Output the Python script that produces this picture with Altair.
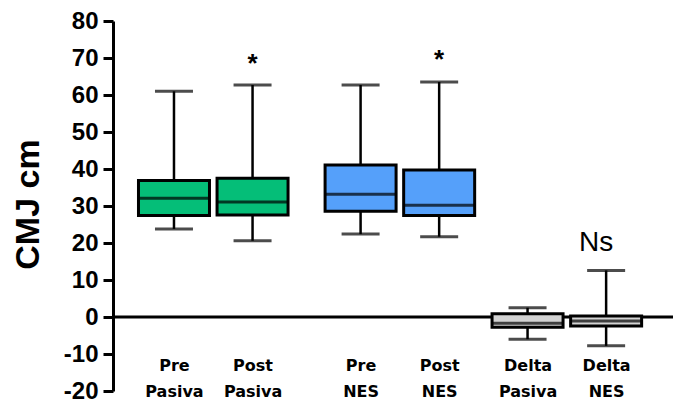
import json
import altair as alt
import pandas as pd

# ---- data ----
categories = ["Pre Pasiva", "Post Pasiva", "Pre NES", "Post NES", "Delta Pasiva", "Delta NES"]
groups = [0, 0, 1, 1, 2, 2]
whisker_low = [23.8, 20.6, 22.4, 21.7, -6.0, -7.8]
q1 = [27.4, 27.6, 28.6, 27.4, -2.8, -2.4]
median = [32.1, 31.1, 33.2, 30.2, -1.7, -1.1]
q3 = [36.9, 37.5, 41.1, 39.7, 0.9, 0.3]
whisker_high = [61.0, 62.7, 62.7, 63.5, 2.5, 12.6]
fills = ["#05BE78", "#05BE78", "#55A0FA", "#55A0FA", "#D3D3D3", "#D3D3D3"]

annot_text = ["*", "*", "Ns"]
annot_cat = ["Post Pasiva", "Post NES", "Delta NES"]
annot_y = [68.5, 69.5, 20]

y_ticks = [-20, -10, 0, 10, 20, 30, 40, 50, 60, 70, 80]

# ---- layout helpers ----
GROUP_OFFSET = [0.0, 0.375, 0.5]   # extra spacing before each group
pos = [i + GROUP_OFFSET[g] for i, g in enumerate(groups)]
pos_of = dict(zip(categories, pos))

df = pd.DataFrame({
    "cat": categories, "pos": pos, "lo": whisker_low, "q1": q1,
    "med": median, "q3": q3, "hi": whisker_high, "fill": fills,
})
ann = pd.DataFrame({
    "text": annot_text,
    "pos": [pos_of[c] for c in annot_cat],
    "y": annot_y,
})

label_expr = " : ".join(
    f"abs(datum.value - {p}) < 0.01 ? {json.dumps(c.split(' '))}" for c, p in zip(categories, pos)
) + " : ''"

xscale = alt.Scale(domain=[-0.7125, 6.2875], nice=False, zero=False)
yscale = alt.Scale(domain=[-20, 80], nice=False, zero=False)

x_axis = alt.Axis(
    values=pos, labelExpr=label_expr, domain=False, ticks=False, tickSize=0,
    grid=False, title=None, labelPadding=-34, labelFont="DejaVu Sans",
    labelFontWeight="bold", labelFontSize=16, labelLineHeight=26,
    labelColor="black", labelAngle=0, labelAlign="center", labelBaseline="top",
    labelOverlap=False)
y_axis = alt.Axis(
    values=y_ticks, grid=False, title="CMJ cm", domainColor="black",
    domainWidth=3, tickColor="black", tickWidth=3, tickSize=10,
    labelExpr="'' + datum.value", labelOverlap=False,
    labelFont="Liberation Sans", labelFontWeight="bold", labelFontSize=24,
    labelColor="black", labelPadding=5, titleFont="Liberation Sans",
    titleFontWeight="bold", titleFontSize=34, titleColor="black",
    titleAngle=-90, titleX=-85, titleY=183, titleAlign="center",
    titleBaseline="middle")


def X(field):
    return alt.X(field, scale=xscale, axis=x_axis)


def Y(field):
    return alt.Y(field, scale=yscale, axis=y_axis)


base = alt.Chart(df)

zero_line = alt.Chart(pd.DataFrame({"z": [0]})).mark_rule(
    color="black", strokeWidth=3).encode(y=Y("z:Q"))

whisk = base.mark_rule(color="black", strokeWidth=2.5).encode(
    x=X("pos:Q"), y=Y("lo:Q"), y2="hi:Q")

cap_lo = base.mark_tick(orient="horizontal", color="black", size=38, thickness=3).encode(
    x=X("pos:Q"), y=Y("lo:Q"))
cap_hi = base.mark_tick(orient="horizontal", color="black", size=38, thickness=3).encode(
    x=X("pos:Q"), y=Y("hi:Q"))

box = base.mark_bar(size=71, stroke="black", strokeWidth=3).encode(
    x=X("pos:Q"), y=Y("q1:Q"), y2="q3:Q",
    fill=alt.Fill("fill:N", scale=None))

med = base.mark_tick(orient="horizontal", color="black", size=72, thickness=3).encode(
    x=X("pos:Q"), y=Y("med:Q"))

stars = alt.Chart(ann).transform_filter("datum.text == '*'").mark_text(
    font="Liberation Sans", fontSize=26, fontWeight="bold", color="black",
    baseline="middle").encode(
    x=X("pos:Q"), y=Y("y:Q"), text="text:N")
ns = alt.Chart(ann).transform_filter("datum.text != '*'").mark_text(
    font="Liberation Sans", fontSize=28, color="black", baseline="middle", dx=-10).encode(
    x=X("pos:Q"), y=Y("y:Q"), text="text:N")

chart = alt.layer(zero_line, whisk, cap_lo, cap_hi, box, med, stars, ns).properties(
    width=560, height=370,
    autosize=alt.AutoSizeParams(type="none"),
    padding={"left": 105, "top": 13, "right": 0, "bottom": 14},
    background="white",
).configure_view(stroke=None)

chart.save("out.html", embed_options={"renderer": "svg", "actions": False})
